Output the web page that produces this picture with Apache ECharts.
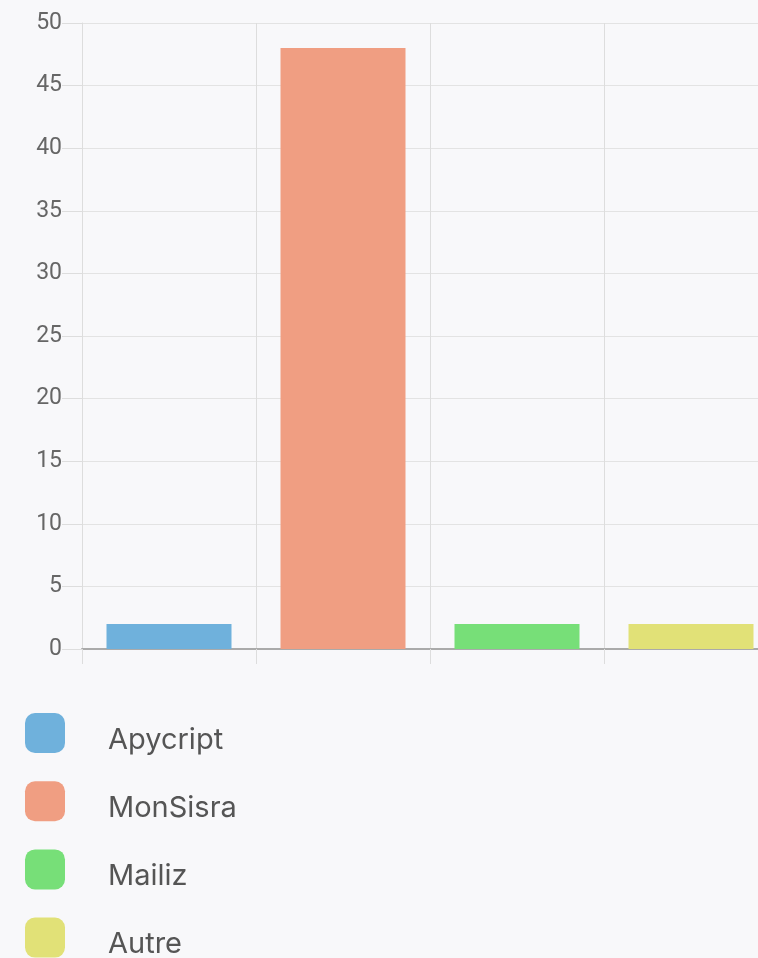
<!DOCTYPE html>
<html>
<head>
<meta charset="utf-8">
<script src="https://cdn.jsdelivr.net/npm/echarts@6/dist/echarts.min.js"></script>
<style>
html,body{margin:0;padding:0;background:#f8f8fa;overflow:hidden;width:758px;height:958px;}
#c{width:778px;height:958px;}
</style>
</head>
<body>
<div id="c"></div>
<script>
const categories = ['Apycript', 'MonSisra', 'Mailiz', 'Autre'];
const values = [2, 48, 2, 2];
const colors = ['#6fb1dc', '#f09e82', '#77df78', '#e1e177'];
const yTicks = { min: 0, max: 50, interval: 5 };

const chart = echarts.init(document.getElementById('c'));
const series = categories.map((name, i) => ({
  name: name,
  type: 'bar',
  barGap: '-100%',
  barWidth: 125,
  data: categories.map((_, j) => (j === i ? values[i] : null)),
  itemStyle: { color: colors[i] },
  emphasis: { disabled: true }
}));

chart.setOption({
  backgroundColor: '#f8f8fa',
  animation: false,
  color: colors,
  grid: { left: 82, top: 23, bottom: 309, right: 0, containLabel: false },
  legend: {
    orient: 'vertical',
    left: 25,
    top: 713,
    height: 300,
    padding: 0,
    itemWidth: 40,
    itemHeight: 40,
    itemGap: 26.7,
    icon: 'roundRect',
    data: categories,
    formatter: '{t|{name}}',
    textStyle: {
      fontFamily: 'Inter', fontSize: 29, color: '#555', padding: [0, 0, 0, 38],
      rich: { t: { fontFamily: 'Inter', fontSize: 29, color: '#555', padding: [14, 0, 0, 0] } }
    }
  },
  xAxis: {
    type: 'category',
    data: categories,
    boundaryGap: true,
    axisLine: { lineStyle: { color: '#aaaaaa', width: 2 } },
    axisTick: { show: true, length: 15, lineStyle: { color: '#dddddd', width: 1 } },
    axisLabel: { show: false },
    splitLine: { show: true, lineStyle: { color: '#dddddd', width: 1 } }
  },
  yAxis: {
    type: 'value',
    min: yTicks.min,
    max: yTicks.max,
    interval: yTicks.interval,
    axisLine: { show: true, lineStyle: { color: '#dddddd', width: 1 } },
    axisTick: { show: true, length: 20, lineStyle: { color: '#dddddd', width: 1 } },
    axisLabel: { fontFamily: 'Roboto', fontSize: 23, color: '#666', margin: 20 },
    splitLine: { show: true, lineStyle: { color: '#e3e3e3', width: 1 } }
  },
  series: series
});
</script>
</body>
</html>
